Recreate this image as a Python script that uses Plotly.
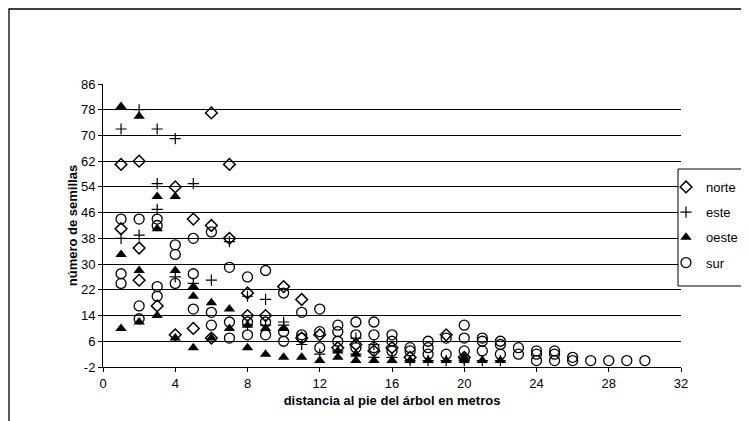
import plotly.graph_objects as go

# ---- data ----
norte_x = [1, 1, 2, 2, 2, 3, 4, 4, 5, 5, 6, 6, 6, 7, 7, 8, 8, 9, 10, 11, 11, 12, 13, 14, 15, 16, 17, 19, 20]
norte_y = [61, 41, 62, 35, 25, 17, 54, 8, 44, 10, 77, 42, 7, 61, 38, 21, 14, 14, 23, 19, 7, 8, 4, 5, 3, 4, 1, 8, 1]

este_x = [1, 1, 2, 2, 3, 3, 3, 4, 4, 5, 5, 6, 7, 8, 8, 9, 9, 10, 10, 11, 12, 13, 14, 14, 15, 15, 16, 17, 18, 19, 20, 21, 22]
este_y = [72, 38, 78, 39, 72, 55, 47, 69, 26, 55, 24, 25, 37, 20, 11, 19, 11, 12, 11, 5, 2, 3, 7, 2, 5, 1, 1, 0, 0, 0, 0, 0, 0]

oeste_x = [1, 1, 1, 2, 2, 2, 3, 3, 3, 4, 4, 4, 5, 5, 5, 6, 6, 7, 7, 8, 8, 9, 9, 10, 10, 11, 12, 13, 13, 14, 14, 15, 16, 17, 18, 19, 20, 20, 21, 22]
oeste_y = [79, 33, 10, 76, 28, 12, 51, 41, 14, 51, 28, 7, 23, 20, 4, 18, 7, 16, 10, 11, 4, 10, 2, 10, 1, 1, 0, 3, 1, 2, 0, 0, 0, 0, 0, 0, 1, 0, 0, 0]

sur_x = [1, 1, 1, 2, 2, 2, 3, 3, 3, 3, 4, 4, 4, 5, 5, 5, 6, 6, 6, 7, 7, 7, 8, 8, 8, 9, 9, 9,
         10, 10, 10, 11, 11, 11, 12, 12, 12, 13, 13, 13, 14, 14, 14, 15, 15, 15, 16, 16, 16,
         17, 17, 18, 18, 18, 19, 19, 20, 20, 20, 21, 21, 21, 22, 22, 22, 23, 23, 24, 24, 24,
         25, 25, 25, 26, 26, 27, 28, 29, 30]
sur_y = [44, 27, 24, 44, 17, 13, 44, 42, 23, 20, 36, 33, 24, 38, 27, 16, 40, 15, 11, 29, 12, 7, 26, 12, 8, 28, 12, 8,
         21, 9, 6, 15, 8, 7, 16, 9, 4, 11, 9, 6, 12, 8, 4, 12, 8, 4, 8, 6, 3,
         4, 3, 6, 4, 2, 7, 2, 11, 7, 3, 7, 6, 3, 6, 5, 2, 4, 2, 3, 2, 0,
         3, 2, 0, 1, 0, 0, 0, 0, 0]

y_ticks = [-2, 6, 14, 22, 30, 38, 46, 54, 62, 70, 78, 86]
x_ticks = [0, 4, 8, 12, 16, 20, 24, 28, 32]

FONT = "Liberation Sans, Arial, sans-serif"

fig = go.Figure()
fig.add_trace(go.Scatter(x=norte_x, y=norte_y, mode="markers", name="norte", legendgroup="a",
                         marker=dict(symbol="diamond-open", size=9, color="black", line=dict(width=1.5, color="black"))))
fig.add_trace(go.Scatter(x=este_x, y=este_y, mode="markers", name="este", legendgroup="b",
                         marker=dict(symbol="cross-thin-open", size=8, color="black", line=dict(width=1.2, color="black"))))
fig.add_trace(go.Scatter(x=oeste_x, y=oeste_y, mode="markers", name="oeste", legendgroup="c",
                         marker=dict(symbol="triangle-up", size=10, color="black", line=dict(width=0))))
fig.add_trace(go.Scatter(x=sur_x, y=sur_y, mode="markers", name="sur", legendgroup="d",
                         marker=dict(symbol="circle-open", size=10, color="black", line=dict(width=1.3, color="black"))))

L, R, T, B = 95, 673, 76, 359
W, H = 749, 421
pw, ph = R - L, B - T

def px(xp):
    return (xp - L) / pw

def py(yp):
    return (B - yp) / ph

fig.update_layout(
    width=W, height=H,
    margin=dict(l=L, r=W - R, t=T, b=H - B, pad=0),
    paper_bgcolor="white", plot_bgcolor="white",
    font=dict(family=FONT, size=12, color="black"),
    showlegend=True,
    legend=dict(x=px(658), y=py(164), xanchor="left", yanchor="top",
                borderwidth=0, bgcolor="rgba(0,0,0,0)",
                font=dict(family=FONT, size=13, color="black"),
                tracegroupgap=5.3, traceorder="grouped"),
    xaxis=dict(range=[0, 32], tickvals=x_ticks, ticktext=[str(v) for v in x_ticks],
               showgrid=False, zeroline=False, showline=True, linecolor="black", linewidth=1,
               ticks="outside", ticklen=4, tickcolor="black", tickfont=dict(size=13),
               title=dict(text="<b>distancia al pie del árbol en metros</b>", font=dict(size=13), standoff=6)),
    yaxis=dict(range=[-2, 86], tickvals=y_ticks, ticktext=[str(v) for v in y_ticks],
               showgrid=True, gridcolor="black", gridwidth=1, zeroline=False,
               showline=True, linecolor="black", linewidth=1,
               ticks="outside", ticklen=4, tickcolor="black", tickfont=dict(size=13),
               title=dict(text="<b>número de semillas</b>", font=dict(size=13), standoff=0)),
    shapes=[
        dict(type="rect", xref="paper", yref="paper",
             x0=px(1), x1=px(770), y0=py(440), y1=py(1),
             line=dict(color="black", width=1.3), fillcolor="rgba(0,0,0,0)", layer="below"),
        dict(type="rect", xref="paper", yref="paper",
             x0=px(670), x1=px(745), y0=py(278), y1=py(161),
             line=dict(color="black", width=1), fillcolor="white", layer="above"),
    ],
)

fig.write_html("out.html")
